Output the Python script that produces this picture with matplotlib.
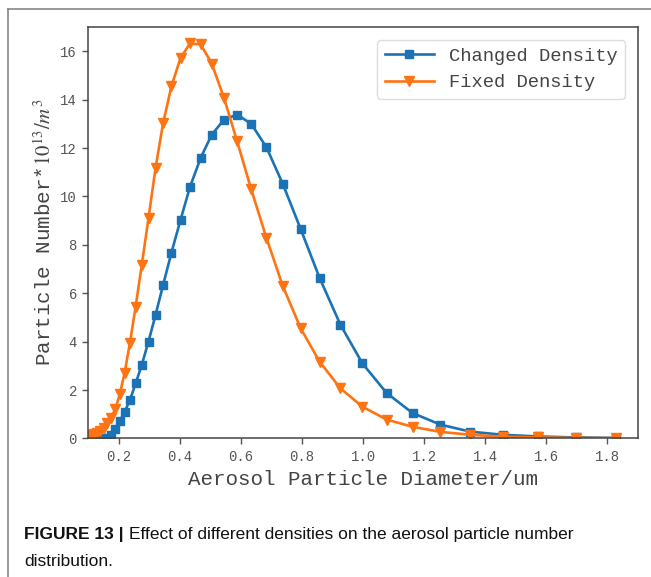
import matplotlib
matplotlib.use("Agg")
import matplotlib.pyplot as plt
from matplotlib.lines import Line2D

# particle diameter grid (um), shared by both curves
diameter = [0.100, 0.111, 0.120, 0.130, 0.140, 0.151, 0.163, 0.175, 0.189, 0.204,
            0.220, 0.237, 0.256, 0.276, 0.298, 0.321, 0.346, 0.373, 0.403, 0.434,
            0.469, 0.505, 0.545, 0.588, 0.634, 0.684, 0.738, 0.796, 0.858, 0.926,
            0.998, 1.077, 1.162, 1.253, 1.351, 1.457, 1.572, 1.696, 1.829]

changed = [0.0, 0.0, 0.0, 0.0, 0.0, 0.0, 0.03, 0.15, 0.38, 0.72,
           1.10, 1.58, 2.27, 3.04, 4.00, 5.10, 6.35, 7.67, 9.04, 10.40,
           11.60, 12.55, 13.17, 13.38, 13.00, 12.03, 10.50, 8.65, 6.63, 4.70,
           3.10, 1.88, 1.05, 0.57, 0.28, 0.15, 0.08, 0.04, 0.02]

fixed = [0.10, 0.13, 0.18, 0.24, 0.32, 0.45, 0.62, 0.85, 1.20, 1.82,
         2.72, 3.93, 5.45, 7.17, 9.10, 11.17, 13.04, 14.55, 15.73, 16.32,
         16.28, 15.49, 14.07, 12.28, 10.30, 8.28, 6.28, 4.55, 3.17, 2.07,
         1.31, 0.78, 0.48, 0.27, 0.15, 0.07, 0.04, 0.02, 0.01]

xticks = [0.2, 0.4, 0.6, 0.8, 1.0, 1.2, 1.4, 1.6, 1.8]
yticks = [0, 2, 4, 6, 8, 10, 12, 14, 16]

plt.rcParams['font.family'] = ['Liberation Mono', 'DejaVu Sans']
plt.rcParams['mathtext.fontset'] = 'stix'

fig = plt.figure(figsize=(6.51, 5.77), dpi=100)
ax = fig.add_axes([88/651, 1 - 438.4/577, 550/651, 411.4/577])

ax.plot(diameter, changed, color='#1b72b5', marker='s', markersize=6.3,
        linewidth=1.9, label='Changed Density')
ax.plot(diameter, fixed, color='#ff7412', marker='v', markersize=6.5,
        linewidth=1.9, label='Fixed Density')

ax.set_xlim(0.1, 1.9)
ax.set_ylim(0, 17.0)
ax.set_xticks(xticks)
ax.set_yticks(yticks)
ax.tick_params(direction='out', length=4, width=1, colors='#555555',
               labelsize=10, pad=4)
for s in ax.spines.values():
    s.set_color('#444444')
    s.set_linewidth(1.1)

ax.set_xlabel('Aerosol Particle Diameter/um', fontsize=15, color='#444444',
              labelpad=5)
ax.set_ylabel('Particle Number*$10^{13}/m^3$', fontsize=15, color='#444444',
              labelpad=4)

leg = ax.legend(loc='upper right', fontsize=13.5, handlelength=2.6,
                borderaxespad=0.7, labelspacing=0.5, fancybox=True,
                framealpha=1)
leg.get_frame().set_edgecolor('#dddddd')
for t in leg.get_texts():
    t.set_color('#444444')

# frame of the figure panel (top and left edges only)
fig.add_artist(Line2D([7.5/651, 7.5/651], [0, 1 - 9/577], color='#888888',
                      linewidth=1.2))
fig.add_artist(Line2D([7.5/651, 1], [1 - 9/577, 1 - 9/577], color='#888888',
                      linewidth=1.2))

# caption
bold = fig.text(24/651, 1 - 535/577, 'FIGURE 13 |', fontsize=12.5,
                fontweight='bold', family='Liberation Sans', va='center',
                color='#111111')
fig.canvas.draw()
bb = bold.get_window_extent(fig.canvas.get_renderer())
fig.text((bb.x1 + 5)/651, 1 - 535/577,
         'Effect of different densities on the aerosol particle number',
         fontsize=12.5, family='Liberation Sans', va='center', color='#111111')
fig.text(24/651, 1 - 561/577, 'distribution.', fontsize=12.5,
         family='Liberation Sans', va='center', color='#111111')

fig.savefig('out.png', dpi=100)
